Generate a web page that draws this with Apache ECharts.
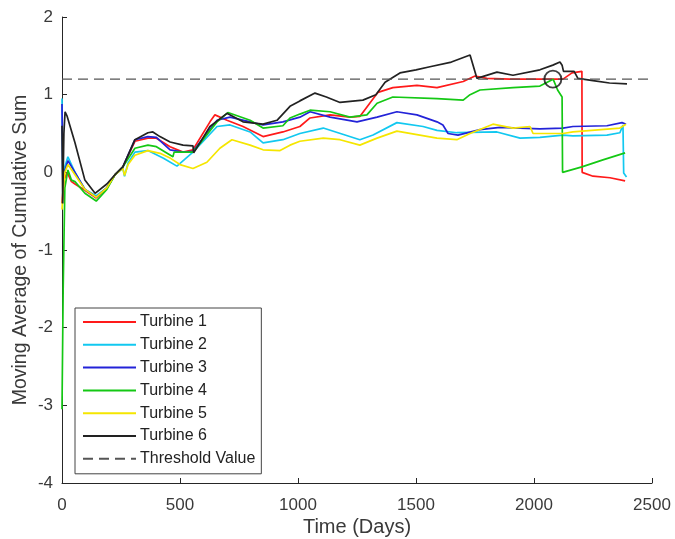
<!DOCTYPE html>
<html>
<head>
<meta charset="utf-8">
<script src="https://cdn.jsdelivr.net/npm/echarts@6/dist/echarts.min.js"></script>
<style>
html, body { margin: 0; padding: 0; background: #fff; }
#main { width: 675px; height: 539px; }
</style>
</head>
<body>
<div id="main"></div>
<script>
// data: [day, value]
var turbine1 = [[0,-0.4],[8,-0.1],[22,0.0],[40,-0.12],[55,-0.15],[97,-0.23],[145,-0.33],[190,-0.2],[225,-0.03],[258,0.07],[309,0.4],[364,0.44],[400,0.44],[458,0.33],[513,0.26],[555,0.29],[627,0.65],[648,0.74],[699,0.67],[767,0.59],[852,0.46],[936,0.52],[1008,0.59],[1051,0.7],[1136,0.74],[1220,0.71],[1262,0.72],[1339,1.03],[1402,1.09],[1504,1.12],[1589,1.09],[1700,1.17],[1750,1.24],[1800,1.21],[1898,1.2],[2123,1.2],[2161,1.28],[2203,1.3],[2204,0.0],[2250,-0.05],[2322,-0.07],[2386,-0.11]];
var turbine2 = [[0,0.95],[4,-0.2],[10,0.05],[25,0.2],[55,0.0],[97,-0.22],[145,-0.3],[190,-0.2],[225,-0.03],[258,0.05],[265,-0.05],[280,0.12],[309,0.26],[364,0.28],[430,0.18],[487,0.08],[555,0.26],[657,0.59],[712,0.61],[797,0.52],[852,0.38],[936,0.42],[1008,0.5],[1107,0.57],[1262,0.42],[1318,0.48],[1419,0.64],[1530,0.59],[1589,0.54],[1673,0.51],[1843,0.52],[1941,0.44],[2025,0.45],[2123,0.48],[2165,0.47],[2309,0.48],[2364,0.51],[2377,0.61],[2380,-0.01],[2392,-0.06]];
var turbine3 = [[0,0.88],[4,-0.25],[10,0.0],[25,0.15],[55,0.0],[97,-0.22],[145,-0.32],[190,-0.2],[225,-0.03],[258,0.07],[309,0.42],[364,0.46],[400,0.45],[458,0.29],[513,0.26],[555,0.27],[657,0.67],[712,0.71],[797,0.65],[852,0.61],[936,0.65],[1008,0.71],[1051,0.78],[1136,0.71],[1250,0.65],[1335,0.71],[1419,0.78],[1504,0.74],[1589,0.65],[1614,0.61],[1636,0.5],[1678,0.48],[1771,0.55],[1856,0.58],[2025,0.56],[2123,0.57],[2165,0.59],[2309,0.6],[2373,0.64],[2390,0.62]];
var turbine4 = [[0,-3.05],[5,-1.5],[12,-0.2],[25,0.03],[40,-0.1],[55,-0.12],[97,-0.27],[145,-0.37],[190,-0.22],[225,-0.03],[258,0.07],[309,0.31],[364,0.35],[400,0.33],[470,0.2],[475,0.26],[555,0.26],[657,0.65],[703,0.77],[797,0.67],[852,0.57],[936,0.6],[966,0.7],[1008,0.75],[1051,0.8],[1136,0.78],[1220,0.71],[1292,0.74],[1335,0.89],[1402,0.97],[1589,0.95],[1700,0.93],[1729,1.0],[1771,1.06],[1911,1.09],[2025,1.11],[2081,1.2],[2100,1.06],[2119,0.97],[2121,0.0],[2203,0.07],[2292,0.16],[2386,0.25]];
var turbine5 = [[0,-0.48],[6,-0.2],[12,0.0],[25,0.1],[55,-0.03],[97,-0.22],[145,-0.32],[190,-0.2],[225,-0.03],[258,0.05],[265,-0.04],[280,0.1],[309,0.22],[364,0.28],[420,0.24],[460,0.18],[500,0.1],[555,0.05],[614,0.13],[669,0.31],[720,0.42],[797,0.35],[852,0.29],[924,0.28],[966,0.35],[1008,0.4],[1107,0.44],[1178,0.42],[1262,0.35],[1335,0.44],[1419,0.53],[1589,0.44],[1673,0.42],[1729,0.5],[1826,0.62],[1911,0.57],[1983,0.59],[1996,0.5],[2123,0.5],[2165,0.52],[2364,0.57],[2390,0.62]];
var turbine6 = [[0,0.6],[3,-0.4],[8,0.5],[13,0.78],[22,0.72],[55,0.38],[97,-0.1],[140,-0.27],[190,-0.15],[225,-0.03],[258,0.07],[309,0.42],[364,0.51],[385,0.52],[415,0.46],[458,0.39],[513,0.35],[555,0.34],[558,0.25],[627,0.59],[699,0.76],[767,0.65],[852,0.62],[911,0.67],[966,0.85],[1008,0.92],[1072,1.02],[1120,0.97],[1178,0.9],[1275,0.93],[1330,1.0],[1369,1.16],[1432,1.28],[1500,1.32],[1559,1.36],[1650,1.42],[1729,1.51],[1758,1.21],[1843,1.29],[1911,1.25],[2025,1.32],[2080,1.38],[2110,1.42],[2119,1.38],[2125,1.3],[2170,1.3],[2186,1.21],[2250,1.18],[2320,1.15],[2394,1.14]];
var threshold = [[0,1.2],[2500,1.2]];
var marked = [[2080,1.2]];

var names = ['Turbine 1','Turbine 2','Turbine 3','Turbine 4','Turbine 5','Turbine 6'];
var colors = ['#ff1a1a','#12c8f0','#2323d8','#14c814','#f5e600','#222222'];
var lines = [turbine1, turbine2, turbine3, turbine4, turbine5, turbine6];

var font = 'Liberation Sans, Arial, sans-serif';
var txt = '#3a3a3a';

var series = [];
for (var i = 0; i < lines.length; i++) {
    series.push({
        name: names[i],
        type: 'line',
        data: lines[i],
        symbol: 'none',
        lineStyle: { color: colors[i], width: 1.7 },
        itemStyle: { color: colors[i] }
    });
}
series.push({
    name: 'Threshold Value',
    type: 'line',
    data: threshold,
    symbol: 'none',
    lineStyle: { color: '#555', width: 1.2, type: [10, 6] },
    itemStyle: { color: '#555' }
});
// circle round the crossing point
series.push({
    type: 'scatter',
    data: marked,
    symbol: 'circle',
    symbolSize: 17,
    itemStyle: { color: 'rgba(0,0,0,0)', borderColor: '#111', borderWidth: 1.9 },
    z: 5
});

var myChart = echarts.init(document.getElementById('main'));
myChart.setOption({
    animation: false,
    backgroundColor: '#fff',
    grid: { left: 62, right: 23, top: 17, bottom: 56, containLabel: false, outerBoundsMode: 'none' },
    legend: {
        data: names.concat(['Threshold Value']),
        orient: 'vertical',
        left: 75,
        top: 308,
        width: 189,
        padding: [6, 6, 7, 7],
        itemWidth: 53,
        itemHeight: 14,
        itemGap: 6.8,
        itemStyle: { opacity: 0 },
        borderColor: '#444',
        borderWidth: 1,
        backgroundColor: '#fff',
        textStyle: { fontFamily: font, fontSize: 16, color: '#222', padding: [0, 0, 0, -1] }
    },
    xAxis: {
        type: 'value',
        min: 0,
        max: 2500,
        interval: 500,
        name: 'Time (Days)',
        nameLocation: 'middle',
        nameGap: 34,
        nameMoveOverlap: false,
        nameTextStyle: { fontFamily: font, fontSize: 20, color: txt },
        axisLine: { onZero: false, lineStyle: { color: '#262626', width: 1 } },
        axisTick: { inside: true, length: 5, lineStyle: { color: '#262626' } },
        axisLabel: {
            fontFamily: font, fontSize: 17, color: txt, margin: 14,
            formatter: function (v) { return String(v); }
        },
        splitLine: { show: false }
    },
    yAxis: {
        type: 'value',
        min: -4,
        max: 2,
        interval: 1,
        name: 'Moving Average of Cumulative Sum',
        nameLocation: 'middle',
        nameGap: 31,
        nameMoveOverlap: false,
        nameTextStyle: { fontFamily: font, fontSize: 19.5, color: txt },
        axisLine: { show: true, onZero: false, lineStyle: { color: '#262626', width: 1 } },
        axisTick: { show: true, inside: true, length: 5, lineStyle: { color: '#262626' } },
        axisLabel: { fontFamily: font, fontSize: 17, color: txt, margin: 9 },
        splitLine: { show: false }
    },
    series: series
});
</script>
</body>
</html>
